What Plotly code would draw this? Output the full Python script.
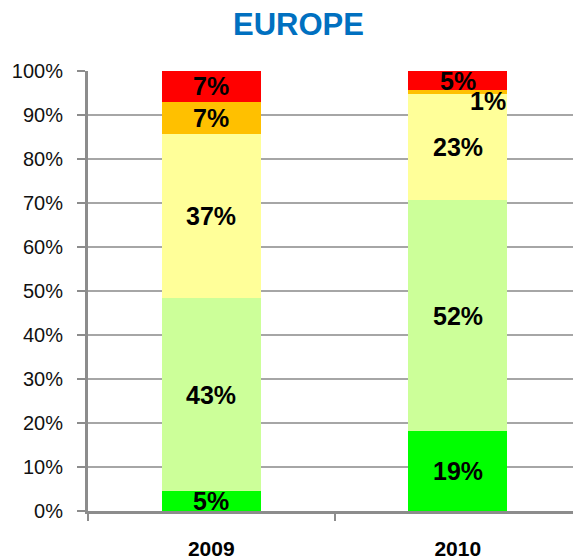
import plotly.graph_objects as go
import numpy as np

categories = ["2009", "2010"]
series_names = ["Very good", "Good", "Average", "Poor", "Very poor"]
very_good = [4.5, 18.2]
good = [43.9, 52.4]
average = [37.3, 24.2]
poor = [7.3, 0.8]
very_poor = [7.0, 4.4]
labels_very_good = ["5%", "19%"]
labels_good = ["43%", "52%"]
labels_average = ["37%", "23%"]
labels_poor = ["7%", "1%"]
labels_very_poor = ["7%", "5%"]
y_ticks = [0, 10, 20, 30, 40, 50, 60, 70, 80, 90, 100]

series = [very_good, good, average, poor, very_poor]
labels = [labels_very_good, labels_good, labels_average, labels_poor, labels_very_poor]
colors = ["#00FF00", "#CCFF99", "#FFFF99", "#FFC000", "#FF0000"]

xpos = list(range(len(categories)))
boundaries = [i - 0.5 for i in range(len(categories) + 1)]

fig = go.Figure()
for name, vals, col in zip(series_names, series, colors):
    fig.add_trace(go.Bar(x=xpos, y=vals, name=name, marker=dict(color=col, line=dict(width=0)),
                         width=0.4, showlegend=False, hoverinfo="skip"))

annotations = []
cum = np.zeros(len(categories))
for si, (vals, labs) in enumerate(zip(series, labels)):
    for ci in xpos:
        mid = cum[ci] + vals[ci] / 2
        xs, ys = 0, 0
        if vals[ci] < 2:
            xs, ys = 30, -9
        annotations.append(dict(x=ci, y=mid, text=f"<b>{labs[ci]}</b>", showarrow=False,
                                xshift=xs, yshift=ys,
                                font=dict(family="Liberation Sans, Arial", size=25, color="black")))
    cum += np.array(vals)

annotations.append(dict(x=0.426, y=1.0, xref="paper", yref="paper", yanchor="middle", yshift=47,
                        text="<b>EUROPE</b>", showarrow=False, borderpad=0,
                        font=dict(family="Liberation Sans, Arial", size=31, color="#0070C0")))

fig.update_layout(
    barmode="stack",
    width=573, height=552,
    margin=dict(l=80, r=0, t=63, b=49, autoexpand=False),
    paper_bgcolor="white", plot_bgcolor="white",
    annotations=annotations,
)
fig.update_yaxes(range=[0, 100], tickvals=y_ticks, ticktext=[f"{v}%" for v in y_ticks],
                 showgrid=True, gridcolor="#A6A6A6", gridwidth=2,
                 showline=True, linecolor="#8C8C8C", linewidth=3,
                 ticks="outside", ticklen=8, tickcolor="#8C8C8C", tickwidth=2,
                 ticklabelstandoff=10,
                 tickfont=dict(family="Liberation Sans, Arial", size=20, color="#111111"),
                 zeroline=False, automargin=False)
fig.update_xaxes(range=[boundaries[0], boundaries[-1]], showline=True, linecolor="#8C8C8C", linewidth=3,
                 tickvals=xpos, ticktext=[f"<b>{c}</b>" for c in categories], ticks="",
                 showgrid=False, zeroline=False, ticklabelstandoff=17,
                 minor=dict(tickvals=boundaries, ticks="outside", ticklen=7, tickcolor="#8C8C8C",
                            tickwidth=2, showgrid=False),
                 tickfont=dict(family="Liberation Sans, Arial", size=21, color="black"),
                 tickangle=0, automargin=False)

fig.write_html("out.html")
